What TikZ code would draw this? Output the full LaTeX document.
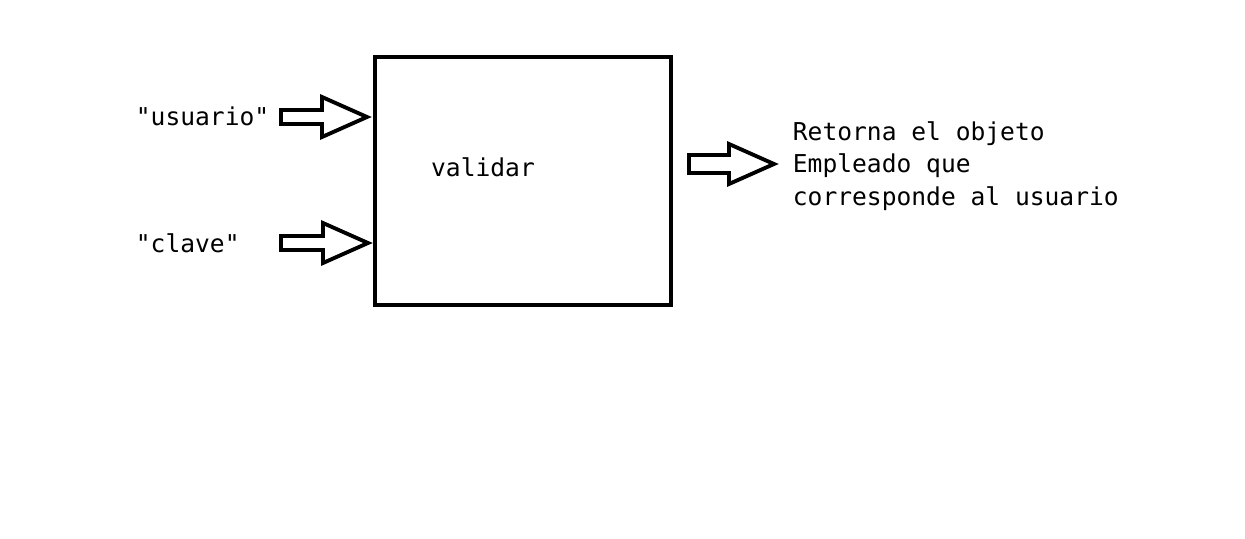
\documentclass[tikz,border=0pt]{standalone}
\usepackage{fontspec}
\setmonofont{DejaVu Sans Mono}
\usetikzlibrary{positioning}
\usetikzlibrary{calc}
\tikzstyle{every node}=[font=\ttfamily\fontsize{14}{18.6}\selectfont,inner sep=0pt]
\tikzstyle{every path}=[line width=2.2pt,line join=miter]
\tikzstyle{blockarrow}=[draw=black,fill=white]
\begin{document}
\begin{tikzpicture}[x=0.02cm,y=-0.02cm]
  \useasboundingbox (0,0) rectangle (1245,538);

  % caja
  \draw (375,57) rectangle (671,305);
  \node (validar) at (483,167) {validar};

  % entradas
  \node[anchor=west] (usuario) at (134,116) {"usuario"};
  \node[anchor=west] (clave) at (134,243) {"clave"};

  % salida
  \node[anchor=west,align=left] (retorna) at (791,166)
    {Retorna el objeto\\Empleado que\\corresponde al usuario};

  % flechas
  \foreach \tl/\tp/\yy/\sh in {281/367/117/7, 281/368/243/7, 689/774/164/9}
    \draw[blockarrow] (\tl,\yy-\sh) -- (\tp-45,\yy-\sh) -- (\tp-45,\yy-20)
      -- (\tp,\yy) -- (\tp-45,\yy+20) -- (\tp-45,\yy+\sh)
      -- (\tl,\yy+\sh) -- cycle;
\end{tikzpicture}
\end{document}
